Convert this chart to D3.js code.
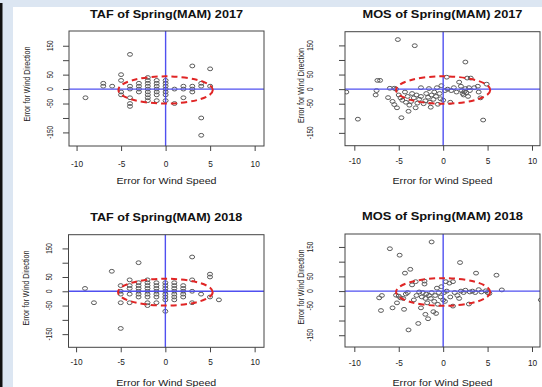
<!DOCTYPE html>
<html><head><meta charset="utf-8">
<script src="https://cdn.jsdelivr.net/npm/d3@7"></script>
<style>html,body{margin:0;padding:0;background:#fff;}svg{display:block;}</style>
</head><body><svg id="c" width="542" height="387"></svg>
<script>
// ---------- data ----------
const titles = ["TAF of Spring(MAM) 2017","MOS of Spring(MAM) 2017","TAF of Spring(MAM) 2018","MOS of Spring(MAM) 2018"];
const xLabel = "Error for Wind Speed";
const yLabel = "Error for Wind Direction";
const xTicks = [-10,-5,0,5,10];
const yTicks = [-150,-100,-50,0,50,100,150];
const yTickLabels = ["-150","","-50","0","50","","150"];
const ellipseCenter = [0,-3];
const ellipseRadii = [5.3,47];

const taf2017 = [
[-9,-30],[-7,20],[-7,10],[-6,10],[-5,50],[-5,30],[-5,-10],[-5,-20],
[-4,120],[-4,10],[-4,0],[-4,-30],[-4,-50],[-4,-60],
[-3,20],[-3,10],[-3,0],[-3,-10],
[-2,40],[-2,30],[-2,20],[-2,10],[-2,0],[-2,-10],[-2,-20],[-2,-30],[-2,-40],
[-1,30],[-1,20],[-1,10],[-1,0],[-1,-10],[-1,-20],[-1,-40],
[0,30],[0,20],[0,10],[0,0],[0,-10],[0,-20],[0,-40],
[1,0],[1,-50],[2,10],[2,0],[2,-30],
[3,80],[3,10],[3,0],[3,-10],
[4,20],[4,10],[4,-100],[4,-160],[5,70],[5,10]
];
const mos2017 = [
[-5.1,170],[-3.2,149],[2.5,93],[-10.9,-10],[-9.6,-103],[-4.7,-98],[-3.9,-76],[4.5,-106],
[-7.4,30],[-7.1,30],[-7.5,-5],[-7.6,-20],[-6.2,-29],[-6,3],[-5.5,3],[-5.3,0],
[-5.7,-42],[-5.5,-53],[-5.2,-64],[-5,-20],[-4.8,-30],[-4.6,-38],[-4.3,-10],[-4.2,-45],
[-4,-25],[-3.8,-55],[-3.6,-42],[-3.5,-15],[-3.3,-30],[-3.1,-64],[-3,-20],[-2.9,-48],
[-2.7,-35],[-2.5,5],[-2.5,-25],[-2.2,-50],[-2,-40],[-1.9,-15],[-1.7,-28],[-1.6,2],
[-1.5,-45],[-1.4,-62],[-1.3,-20],[-1.1,-35],[-1,-10],[-0.8,-25],[-0.7,5],[-0.6,-52],
[-0.4,-15],[-0.3,-33],[-0.2,12],[0,-38],[0.2,-5],[0.4,41],[0.5,0],[0.8,-45],[0.9,-5],
[1.2,5],[1.5,-10],[1.8,24],[2,10],[2.1,-5],[2.2,-15],[2.3,-20],[2.4,-8],[2.5,2],
[2.6,-12],[2.7,38],[2.8,-25],[3.1,38],[3,-5],[3.5,5],[3.9,10],[4,-10],[4.2,-30],[4.9,17],[2.9,5]
];
const taf2018 = [
[-9,10],[-8,-40],[-6,70],[-5,-130],[-5,20],[-5,0],[-5,-10],[-5,-40],
[-4,40],[-4,20],[-4,10],[-4,-10],[-4,-40],
[-3,100],[-3,30],[-3,20],[-3,10],[-3,0],[-3,-10],[-3,-20],
[-2,40],[-2,30],[-2,20],[-2,10],[-2,0],[-2,-10],[-2,-20],[-2,-40],[-2,-50],
[-1,30],[-1,20],[-1,10],[-1,0],[-1,-10],[-1,-20],[-1,-40],
[0,30],[0,20],[0,10],[0,0],[0,-10],[0,-20],[0,-30],[0,-70],
[1,30],[1,20],[1,10],[1,0],[1,-10],[1,-20],[1,-30],
[2,20],[2,10],[2,0],[2,-10],[2,-20],
[3,120],[3,40],[3,0],[3,-40],[4,-10],[5,60],[5,50],[5,-20],[6,-30]
];
const mos2018 = [
[-1.3,167],[-6,144],[-4.9,122],[1.9,97],[-3.7,74],[-4.3,61],[3.7,61],[6,54],[11,-30],
[6.6,4],[5.2,-8],[4.8,1],[5,-5],
[-7.2,-23],[-6.9,-15],[-7,-66],[-5.7,-57],[-5.2,-40],[-5.3,-14],[-5,-17],[-4.8,-23],
[-4.4,-62],[-4.5,-25],[-4.2,-10],[-4,-5],[-3.9,-132],[-3.5,21],[-3.1,32],[-3.3,-30],
[-3,-15],[-2.8,-110],[-2.7,-3],[-2.5,-57],[-2.4,-20],[-2.3,-5],[-2.1,34],[-2.1,24],
[-2,-79],[-2,-25],[-1.9,-10],[-1.8,-40],[-1.7,-94],[-1.6,-15],[-1.4,-25],[-1.3,-5],
[-1.1,-70],[-1,-35],[-0.9,-15],[-0.8,-76],[-0.7,10],[-0.6,-45],[-0.5,-5],[-0.3,-20],
[-0.2,15],[0,-30],[0.1,-5],[0.2,-35],[0.3,32],[0.4,0],[0.7,27],[0.8,-20],[1.1,32],
[1.1,-51],[1.3,-5],[1.6,-15],[1.8,-25],[2,0],[2.3,-5],[2.5,3],[2.9,-44],[3,-3],
[3.3,0],[3.6,-5],[4,5],[4.3,-3]
];
const series = [taf2017, mos2017, taf2018, mos2018];

// ---------- layout ----------
const panels = [
 {box:{l:69,r:264,t:31,b:146}, xd:[-10.85,11.05], yd:[-197,201], titleY:18.3, titleW:153, xtY:166.5, xlY:183.5, ylX:26.5, ylY:84, ytX:49.5},
 {box:{l:345,r:540,t:31.7,b:145.7}, xd:[-11.05,10.9], yd:[-194,197], titleY:18.3, titleW:160, xtY:164.5, xlY:183.5, ylX:301, ylY:85.5, ytX:310},
 {box:{l:68.5,r:264,t:234.7,b:347.3}, xd:[-10.85,11.05], yd:[-196,198], titleY:221.3, titleW:152, xtY:365.5, xlY:386, ylX:25.5, ylY:288, ytX:49},
 {box:{l:345,r:540,t:234,b:347}, xd:[-11.05,10.9], yd:[-190,194], titleY:219.7, titleW:161, xtY:365.8, xlY:386, ylX:301, ylY:287, ytX:310}
];

const svg = d3.select("#c");
const FONT = "'Liberation Sans', Arial, Helvetica, sans-serif";
svg.append("rect").attr("width",542).attr("height",387).attr("fill","#dce6f2");
svg.append("rect").attr("x",13).attr("y",7).attr("width",529).attr("height",380).attr("fill","#fff");
svg.append("rect").attr("x",0).attr("y",3).attr("width",2.5).attr("height",384).attr("fill","#111");

panels.forEach((p,i)=>{
  const b = p.box;
  const x = d3.scaleLinear().domain(p.xd).range([b.l,b.r]);
  const y = d3.scaleLinear().domain(p.yd).range([b.b,b.t]);
  const g = svg.append("g");
  const cid = "clip"+i;
  svg.append("clipPath").attr("id",cid).append("rect")
    .attr("x",b.l).attr("y",b.t).attr("width",b.r-b.l).attr("height",b.b-b.t);

  // points
  g.append("g").attr("clip-path",`url(#${cid})`).selectAll("ellipse.pt").data(series[i]).join("ellipse")
    .attr("class","pt")
    .attr("cx",d=>x(d[0])).attr("cy",d=>y(d[1]))
    .attr("rx",2.5).attr("ry",1.9)
    .attr("fill","none").attr("stroke","#5a5a5a").attr("stroke-width",1);

  // reference lines
  g.append("line").attr("x1",x(0)).attr("x2",x(0)).attr("y1",b.t).attr("y2",b.b)
    .attr("stroke","#5050f0").attr("stroke-width",1.4);
  g.append("line").attr("x1",b.l).attr("x2",b.r).attr("y1",y(0)).attr("y2",y(0))
    .attr("stroke","#5050f0").attr("stroke-width",1.4);

  // ellipse
  g.append("ellipse")
    .attr("cx",x(ellipseCenter[0])).attr("cy",y(ellipseCenter[1]))
    .attr("rx",x(ellipseCenter[0]+ellipseRadii[0])-x(ellipseCenter[0]))
    .attr("ry",y(ellipseCenter[1])-y(ellipseCenter[1]+ellipseRadii[1]))
    .attr("fill","none").attr("stroke","#e02525").attr("stroke-width",2)
    .attr("stroke-dasharray","6,4");

  // box
  g.append("rect").attr("x",b.l).attr("y",b.t).attr("width",b.r-b.l).attr("height",b.b-b.t)
    .attr("fill","none").attr("stroke","#444").attr("stroke-width",1);

  // x axis
  const xa = g.append("g").attr("transform",`translate(0,${b.b})`)
    .call(d3.axisBottom(x).tickValues(xTicks).tickSize(5).tickFormat(d3.format("d")));
  xa.select(".domain").remove();
  xa.selectAll("line").attr("stroke","#444");
  xa.selectAll("text").attr("y",p.xtY-b.b).attr("dy",null)
    .attr("font-family",FONT).attr("font-size",8.3).attr("fill","#222").text(d=>String(d));

  // y axis
  const ya = g.append("g").attr("transform",`translate(${b.l},0)`)
    .call(d3.axisLeft(y).tickValues(yTicks).tickSize(6).tickFormat(""));
  ya.select(".domain").remove();
  ya.selectAll("line").attr("stroke","#444");
  ya.selectAll("text").remove();
  g.selectAll("text.yt").data(yTicks).join("text").attr("class","yt")
    .attr("transform",d=>`translate(${p.ytX},${y(d)}) rotate(-90) scale(0.75,1)`)
    .attr("text-anchor","middle").attr("dy","0.36em")
    .attr("font-family",FONT).attr("font-size",8.5).attr("fill","#222")
    .text((d,k)=>yTickLabels[k]);

  // title
  g.append("text").attr("x",(b.l+b.r)/2).attr("y",p.titleY)
    .attr("text-anchor","middle").attr("font-family",FONT).attr("font-weight","bold")
    .attr("font-size",11).attr("fill","#111")
    .attr("textLength",p.titleW).attr("lengthAdjust","spacingAndGlyphs")
    .text(titles[i]);
  // x label
  g.append("text").attr("x",(b.l+b.r)/2).attr("y",p.xlY)
    .attr("text-anchor","middle").attr("font-family",FONT)
    .attr("font-size",9.5).attr("fill","#222")
    .attr("textLength",100).attr("lengthAdjust","spacingAndGlyphs")
    .text(xLabel);
  // y label
  g.append("text").attr("transform",`translate(${p.ylX},${p.ylY}) rotate(-90)`)
    .attr("text-anchor","middle").attr("dy","0.36em").attr("font-family",FONT)
    .attr("font-size",9.3).attr("fill","#222")
    .attr("textLength",75).attr("lengthAdjust","spacingAndGlyphs")
    .text(yLabel);
});
</script></body></html>
